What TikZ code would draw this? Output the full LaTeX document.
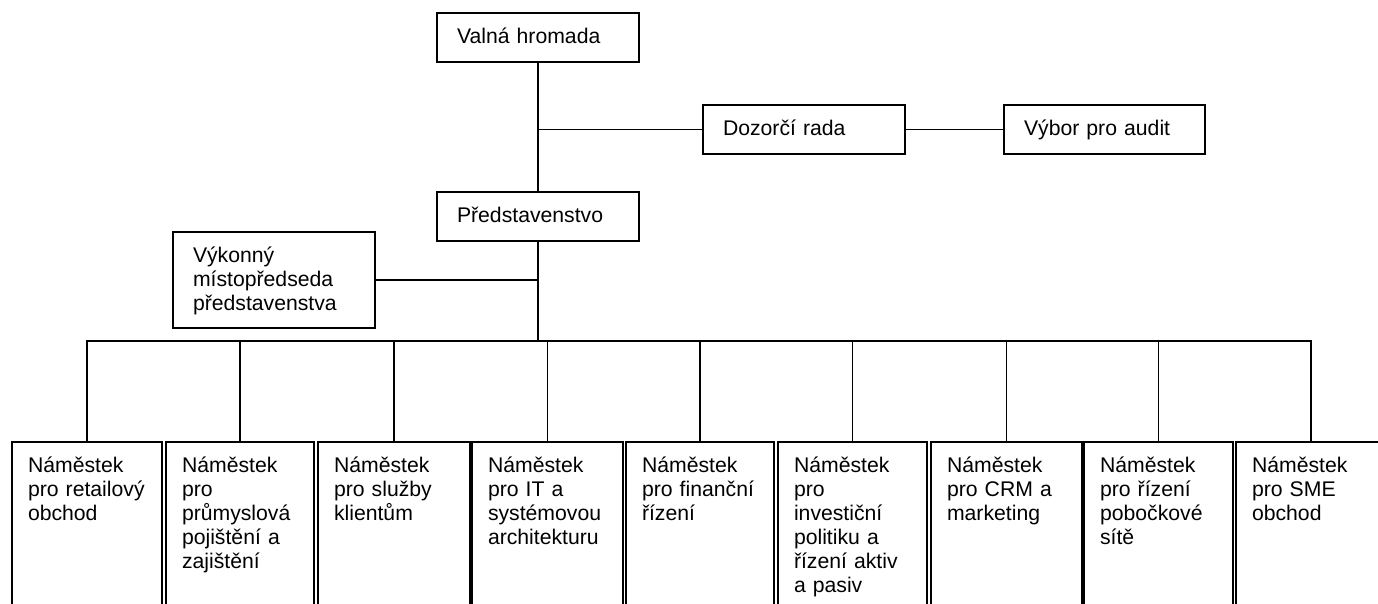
\documentclass[tikz,border=0pt]{standalone}
\usepackage{fontspec}
\setmainfont{Liberation Sans}
\hyphenpenalty=10000
\exhyphenpenalty=10000
\begin{document}
\begin{tikzpicture}[x=1pt,y=-1pt,
  orgbox/.style n args={3}{draw, line width=1.4pt, rectangle, anchor=north west,
    outer sep=0pt, inner xsep=#3, inner ysep=0pt, align=left,
    font={\fontsize{21.2}{24}\selectfont\hyphenpenalty=10000\relax},
    text width=#1-2*#3, text height=30pt, text depth=#2-30pt},
  topbox/.style 2 args={orgbox={#1}{#2}{20pt}},
  botbox/.style={orgbox={#1}{220pt}{16pt}},
  conn/.style={line width=1.4pt}]
\useasboundingbox (0,0) rectangle (1378,603);
\clip (0,0) rectangle (1378,603);
% top level
\node[topbox={202pt}{49pt}] (valna) at (437,13) {Valná~hromada};
\node[topbox={202pt}{49pt}] (dozor) at (703,105) {Dozorčí~rada};
\node[topbox={201pt}{49pt}] (vybor) at (1004,105) {Výbor~pro~audit};
\node[topbox={202pt}{49pt}] (pred) at (437,192) {Představenstvo};
\node[topbox={202pt}{96pt}] (vykon) at (173,232) {Výkonný\\místopředseda\\představenstva};
% bottom row
\node[botbox={150pt}] (b1) at (12,442) {Náměstek\\pro~retailový\\obchod};
\node[botbox={148pt}] (b2) at (166,442) {Náměstek\\pro\\průmyslová\\pojištění~a\\zajištění};
\node[botbox={152pt}] (b3) at (318,442) {Náměstek\\pro~služby\\klientům};
\node[botbox={151pt}] (b4) at (472,442) {Náměstek\\pro~IT~a\\systémovou\\architekturu};
\node[botbox={148pt}] (b5) at (626,442) {Náměstek\\pro~finanční\\řízení};
\node[botbox={149pt}] (b6) at (778,442) {Náměstek\\pro\\investiční\\politiku~a\\řízení~aktiv\\a~pasiv};
\node[botbox={151pt}] (b7) at (931,442) {Náměstek\\pro~CRM~a\\marketing};
\node[botbox={149pt}] (b8) at (1084,442) {Náměstek\\pro~řízení\\pobočkové\\sítě};
\node[botbox={150pt}] (b9) at (1236,442) {Náměstek\\pro~SME\\obchod};
% connectors
\coordinate (bus) at (538,341);
\draw[conn] (valna.south) -- (pred.north);
\draw[conn] (valna.south |- dozor.west) -- (dozor.west);
\draw[conn] (dozor.east) -- (vybor.west);
\draw[conn] (pred.south) -- (bus);
\draw[conn] (vykon.east) -- (vykon.east -| pred.south);
\foreach \b in {b1,b2,b3,b4,b5,b6,b7,b8,b9}
  \draw[conn] (\b.north) |- (bus);
\end{tikzpicture}
\end{document}
